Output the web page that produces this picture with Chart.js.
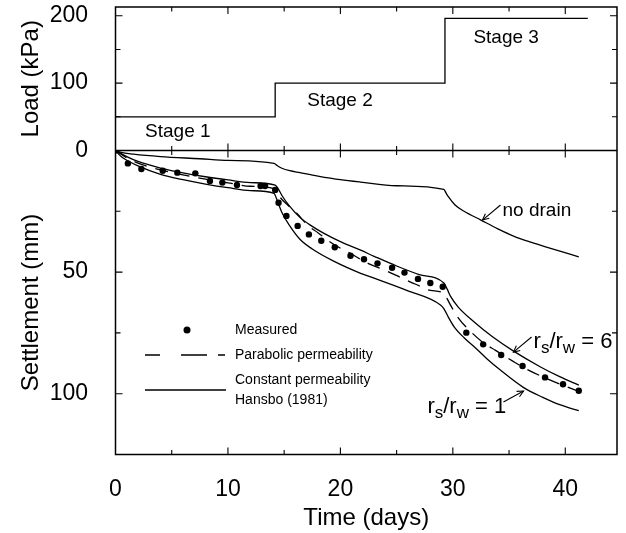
<!DOCTYPE html>
<html><head><meta charset="utf-8">
<script src="https://cdn.jsdelivr.net/npm/chart.js@4"></script>
<style>html,body{margin:0;padding:0;background:#fff}#wrap{width:626px;height:533px}</style>
</head><body><div id="wrap"><canvas id="c" width="626" height="533"></canvas></div>
<script>
// ---- data ----
const loadDays = [0, 14.2, 14.2, 29.3, 29.3, 42.0];
const loadKPa  = [50, 50, 100, 100, 196, 196];

const measuredDays = [0, 1.1, 2.3, 4.2, 5.5, 7.1, 8.4, 9.5, 10.8, 12.9, 13.3, 14.2, 14.5, 15.2, 16.2, 17.2, 18.3, 19.5, 20.9, 22.1, 23.3, 24.6, 25.7, 26.9, 28.0, 29.1, 31.2, 32.7, 34.3, 36.2, 38.2, 39.8, 41.2];
const measuredMm   = [0, 5.3, 7.6, 8.3, 9.1, 9.4, 12.5, 13.2, 14.2, 14.6, 14.6, 16.2, 21.5, 26.9, 31.0, 34.5, 37.1, 39.8, 43.3, 44.7, 46.4, 48.2, 50.2, 52.8, 54.5, 56.0, 74.9, 79.7, 84.1, 88.6, 93.3, 96.1, 98.8];

const parabolicDays = [0, 1, 2, 4, 6, 8, 10, 12, 14.2, 14.6, 15.4, 16.1, 17.1, 18, 19.4, 20.7, 22.5, 24, 25.5, 26.7, 28, 29.3, 29.5, 30.5, 31.4, 32.7, 33.8, 35.4, 36.6, 38.2, 39.8, 41.2];
const parabolicMm   = [0, 3, 5.2, 8, 10, 11.8, 13.3, 14.7, 15.8, 19, 22.8, 25.7, 30.8, 33.8, 38.6, 41.8, 46.5, 49.3, 52.5, 55, 57.5, 59, 61, 68.9, 73.6, 79, 82.2, 86.8, 90, 93.5, 96.6, 99];

const rs6Days = [0, 1, 2, 4, 6, 8, 10, 12, 14.2, 14.5, 14.8, 15.5, 16.4, 17.5, 18.5, 20, 21.8, 23, 25, 27, 29.2, 29.5, 29.8, 30.5, 31.9, 33.5, 35.4, 37.8, 39.5, 41.2];
const rs6Mm   = [0, 2.5, 4.5, 7.2, 9.2, 10.8, 12.1, 13.2, 14.2, 16, 18.5, 23, 27.5, 31.2, 34, 37.5, 41, 43.5, 47.5, 51, 54.5, 57, 60, 64.5, 70.5, 76.5, 82.5, 89, 93, 96.5];

const rs1Days = [0, 0.5, 1, 2, 4, 6, 8, 10, 12, 14.1, 14.3, 14.8, 15.5, 16.4, 17.5, 19.4, 21.8, 23, 25.9, 28.9, 29.2, 29.6, 30.1, 31, 31.9, 33, 34.2, 36.3, 38, 39.5, 41.2];
const rs1Mm   = [0, 2.5, 4, 6.3, 9.8, 12, 13.8, 15.3, 16.5, 17.6, 19.5, 25.5, 31, 36.5, 40.5, 45.5, 50.5, 52.5, 57.5, 63.5, 65, 68.5, 72.4, 77, 80.7, 85.5, 90.2, 97.5, 101.5, 104.5, 107];

const noDrainDays = [0, 0.5, 1.6, 4, 7.5, 10, 14.1, 14.4, 14.8, 15.5, 16.4, 18, 20, 21.8, 25, 29.2, 29.4, 29.6, 30.2, 31, 32.5, 34, 35.4, 37, 38.4, 41.2];
const noDrainMm   = [0, 0.8, 1.5, 2.5, 3.4, 4.1, 5.3, 6.3, 7.3, 8.3, 9.1, 10.5, 12, 13, 14.5, 16, 17.5, 19, 22.4, 25, 28.6, 32.2, 35.2, 37.8, 39.8, 43.7];

const xTickLabels = [0, 10, 20, 30, 40];
const loadTickLabels = [0, 100, 200];
const settleTickLabels = [50, 100];

// ---- chart ----
const FONT = '"Liberation Sans", Arial, Helvetica, sans-serif';
Chart.defaults.font.family = FONT;
Chart.defaults.color = '#000';

const pts = (xs, ys) => xs.map((x, i) => ({x: x, y: ys[i]}));
const lineDs = (label, xs, ys, axis, dash, smooth) => ({
  label, data: pts(xs, ys), yAxisID: axis, showLine: true,
  borderColor: '#000', borderWidth: 1.3, borderDash: dash || [],
  pointRadius: 0, fill: false,
  cubicInterpolationMode: smooth ? 'monotone' : 'default', tension: 0
});

function arrow(ctx, x1, y1, x2, y2) {
  ctx.beginPath(); ctx.moveTo(x1, y1); ctx.lineTo(x2, y2); ctx.stroke();
  const ang = Math.atan2(y2 - y1, x2 - x1), L = 7, w = 0.45;
  ctx.beginPath();
  ctx.moveTo(x2 - L * Math.cos(ang - w), y2 - L * Math.sin(ang - w));
  ctx.lineTo(x2, y2);
  ctx.lineTo(x2 - L * Math.cos(ang + w), y2 - L * Math.sin(ang + w));
  ctx.stroke();
}
function ratioText(ctx, x, y, num) {
  const big = '22px ' + FONT, small = '17px ' + FONT;
  ctx.textAlign = 'left'; ctx.textBaseline = 'alphabetic';
  const parts = [['r', big, 0], ['s', small, 5], ['/', big, 0], ['r', big, 0], ['w', small, 5], [' = ' + num, big, 0]];
  let cx = x;
  for (const [t, f, dy] of parts) { ctx.font = f; ctx.fillText(t, cx, y + dy); cx += ctx.measureText(t).width; }
}

const decor = {
  id: 'decor',
  afterDraw(chart) {
    const {ctx, chartArea: a} = chart;
    const xs = chart.scales.x, yl = chart.scales.yLoad, ys = chart.scales.ySet;
    const X = d => xs.getPixelForValue(d), YL = v => yl.getPixelForValue(v), YS = v => ys.getPixelForValue(v);
    const yMid = YS(0);
    ctx.save();
    ctx.strokeStyle = '#000'; ctx.fillStyle = '#000';
    ctx.lineWidth = 1.5;
    ctx.beginPath();
    ctx.rect(a.left, a.top, a.right - a.left, a.bottom - a.top);
    ctx.moveTo(a.left, yMid); ctx.lineTo(a.right, yMid);
    ctx.stroke();
    // ticks
    ctx.lineWidth = 1.1;
    ctx.beginPath();
    for (let d = 5; d < xs.max; d += 5) {
      const px = X(d), len = d % 10 === 0 ? 7 : 4.5;
      ctx.moveTo(px, a.bottom); ctx.lineTo(px, a.bottom - len);
      ctx.moveTo(px, a.top); ctx.lineTo(px, a.top + len);
      ctx.moveTo(px, yMid - len); ctx.lineTo(px, yMid + len);
    }
    for (let v = 50; v < yl.max; v += 50) {
      const py = YL(v), len = v % 100 === 0 ? 7 : 5;
      ctx.moveTo(a.left, py); ctx.lineTo(a.left + len, py);
      ctx.moveTo(a.right, py); ctx.lineTo(a.right - len, py);
    }
    for (let v = 25; v < ys.max; v += 25) {
      const py = YS(v), len = v % 50 === 0 ? 7 : 5;
      ctx.moveTo(a.left, py); ctx.lineTo(a.left + len, py);
      ctx.moveTo(a.right, py); ctx.lineTo(a.right - len, py);
    }
    ctx.stroke();

    // stage labels
    ctx.font = '19px ' + FONT; ctx.textAlign = 'left'; ctx.textBaseline = 'alphabetic';
    ctx.fillText('Stage 1', X(2.63), YL(20));
    ctx.fillText('Stage 2', X(17.05), YL(66.2));
    ctx.fillText('Stage 3', X(31.83), YL(160.3));
    // no drain
    ctx.fillText('no drain', X(34.42), YS(26.9));
    ctx.lineWidth = 1.1;
    arrow(ctx, X(34.24), YS(22.4), X(32.64), YS(28.6));
    // ratio labels
    ratioText(ctx, X(37.18), YS(81.2), '6');
    arrow(ctx, X(37.0), YS(76.7), X(35.39), YS(82.9));
    ratioText(ctx, X(27.74), YS(107.9), '1');
    arrow(ctx, X(34.5), YS(103.4), X(36.29), YS(98.9));

    // legend
    ctx.font = '14px ' + FONT; ctx.textBaseline = 'middle';
    ctx.beginPath(); ctx.arc(187, 330, 3.5, 0, Math.PI * 2); ctx.fill();
    ctx.fillText('Measured', 235, 330);
    ctx.fillText('Parabolic permeability', 235, 355);
    ctx.fillText('Constant permeability', 235, 380);
    ctx.fillText('Hansbo (1981)', 235, 400);
    ctx.lineWidth = 1.3;
    ctx.setLineDash([15, 21, 26, 11]);
    ctx.beginPath(); ctx.moveTo(145, 355); ctx.lineTo(225, 355); ctx.stroke();
    ctx.setLineDash([]);
    ctx.beginPath(); ctx.moveTo(145, 390); ctx.lineTo(226, 390); ctx.stroke();
    ctx.restore();
  }
};

const noPad = s => { s.paddingTop = 0; s.paddingBottom = 0; s.paddingLeft = 0; s.paddingRight = 0; };

new Chart(document.getElementById('c'), {
  type: 'scatter',
  data: {
    datasets: [
      lineDs('Load', loadDays, loadKPa, 'yLoad', null, false),
      lineDs('no drain', noDrainDays, noDrainMm, 'ySet', null, true),
      lineDs('rs/rw = 6', rs6Days, rs6Mm, 'ySet', null, true),
      lineDs('rs/rw = 1', rs1Days, rs1Mm, 'ySet', null, true),
      lineDs('Parabolic permeability', parabolicDays, parabolicMm, 'ySet', [13, 9], true),
      { label: 'Measured', data: pts(measuredDays, measuredMm), yAxisID: 'ySet', showLine: false,
        pointRadius: 3.2, pointBackgroundColor: '#000', pointBorderColor: '#000', pointBorderWidth: 0 }
    ]
  },
  options: {
    responsive: false, animation: false, events: [],
    layout: { padding: { left: 0, right: 9, top: 7, bottom: 0 } },
    plugins: { legend: { display: false }, tooltip: { enabled: false } },
    scales: {
      x: {
        type: 'linear', position: 'bottom', min: 0, max: 44.6,
        grid: { display: false }, border: { display: false },
        afterBuildTicks: s => { s.ticks = xTickLabels.map(v => ({value: v})); },
        ticks: { padding: 13, font: { size: 23 }, color: '#000', maxRotation: 0, autoSkip: false },
        title: { display: true, text: 'Time (days)', font: { size: 24 }, color: '#000', padding: { top: 0, bottom: 0 } },
        afterFit: s => { s.height = 78.5; noPad(s); }
      },
      yLoad: {
        type: 'linear', position: 'left', stack: 'v', stackWeight: 143.5, weight: 1,
        min: 0, max: 213,
        grid: { display: false }, border: { display: false },
        afterBuildTicks: s => { s.ticks = loadTickLabels.map(v => ({value: v})); },
        ticks: { padding: 19.5, font: { size: 23 }, color: '#000', autoSkip: false },
        title: { display: true, text: 'Load (kPa)', font: { size: 24 }, color: '#000', padding: { top: 16.6, bottom: 0 } },
        afterFit: s => { s.width = 115.5; noPad(s); }
      },
      ySet: {
        type: 'linear', position: 'left', stack: 'v', stackWeight: 304, weight: 0,
        min: 0, max: 125, reverse: true,
        grid: { display: false }, border: { display: false },
        afterBuildTicks: s => { s.ticks = settleTickLabels.map(v => ({value: v})); },
        ticks: { padding: 19.5, font: { size: 23 }, color: '#000', autoSkip: false },
        title: { display: true, text: 'Settlement (mm)', font: { size: 24 }, color: '#000', padding: { top: 16.6, bottom: 0 } },
        afterFit: s => { s.width = 115.5; noPad(s); }
      }
    }
  },
  plugins: [decor]
});
</script>
</body></html>
